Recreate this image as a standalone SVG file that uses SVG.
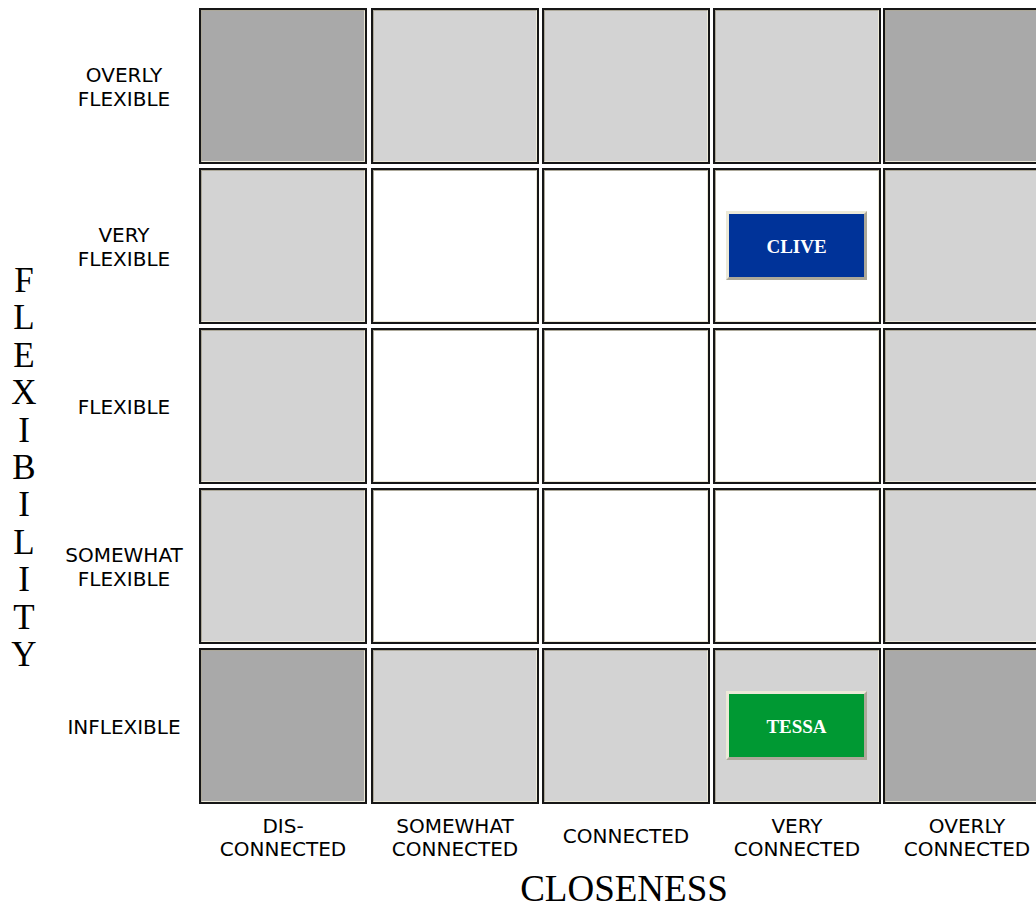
<svg xmlns="http://www.w3.org/2000/svg" width="1036" height="907" viewBox="0 0 1036 907">
<style>
.bg{fill:#ffffff}
.outer{fill:#161616}
.hi{fill:#ece9d8}
.lo{fill:#aca899}
.dk{fill:#a9a9a9}
.lt{fill:#d3d3d3}
.wh{fill:#ffffff}
.lbl{font-family:"DejaVu Sans",Verdana,sans-serif;font-size:20px;fill:#000;text-anchor:middle}
.axis{font-family:"Liberation Serif","Times New Roman",serif;font-size:37px;fill:#000;text-anchor:middle}
.vax{font-family:"Liberation Serif","Times New Roman",serif;font-size:35px;fill:#000;text-anchor:middle}
.name{font-family:"Liberation Serif","Times New Roman",serif;font-size:19px;font-weight:bold;fill:#fff;text-anchor:middle}
</style>
<defs>
<g id="frame">
<rect class="outer" x="0" y="0" width="168" height="156"/>
<rect class="hi" x="2" y="2" width="164" height="152"/>
<path class="lo" d="M2 2H166L165 3H3V153L2 154Z"/>
</g>
<g id="nb">
<rect class="hi" x="0" y="0" width="141" height="69"/>
<path class="lo" d="M141 0V69H0L3 66H138V3Z"/>
</g>
</defs>
<rect class="bg" x="0" y="0" width="1036" height="907"/>
<g id="grid">
<g id="c11" transform="translate(199,8)"><use href="#frame"/><rect class="dk" x="3" y="3" width="162" height="150"/></g>
<g id="c12" transform="translate(371,8)"><use href="#frame"/><rect class="lt" x="3" y="3" width="162" height="150"/></g>
<g id="c13" transform="translate(542,8)"><use href="#frame"/><rect class="lt" x="3" y="3" width="162" height="150"/></g>
<g id="c14" transform="translate(713,8)"><use href="#frame"/><rect class="lt" x="3" y="3" width="162" height="150"/></g>
<g id="c15" transform="translate(883,8)"><use href="#frame"/><rect class="dk" x="3" y="3" width="162" height="150"/></g>

<g id="c21" transform="translate(199,168)"><use href="#frame"/><rect class="lt" x="3" y="3" width="162" height="150"/></g>
<g id="c22" transform="translate(371,168)"><use href="#frame"/><rect class="wh" x="3" y="3" width="162" height="150"/></g>
<g id="c23" transform="translate(542,168)"><use href="#frame"/><rect class="wh" x="3" y="3" width="162" height="150"/></g>
<g id="c24" transform="translate(713,168)"><use href="#frame"/><rect class="wh" x="3" y="3" width="162" height="150"/></g>
<g id="c25" transform="translate(883,168)"><use href="#frame"/><rect class="lt" x="3" y="3" width="162" height="150"/></g>

<g id="c31" transform="translate(199,328)"><use href="#frame"/><rect class="lt" x="3" y="3" width="162" height="150"/></g>
<g id="c32" transform="translate(371,328)"><use href="#frame"/><rect class="wh" x="3" y="3" width="162" height="150"/></g>
<g id="c33" transform="translate(542,328)"><use href="#frame"/><rect class="wh" x="3" y="3" width="162" height="150"/></g>
<g id="c34" transform="translate(713,328)"><use href="#frame"/><rect class="wh" x="3" y="3" width="162" height="150"/></g>
<g id="c35" transform="translate(883,328)"><use href="#frame"/><rect class="lt" x="3" y="3" width="162" height="150"/></g>

<g id="c41" transform="translate(199,488)"><use href="#frame"/><rect class="lt" x="3" y="3" width="162" height="150"/></g>
<g id="c42" transform="translate(371,488)"><use href="#frame"/><rect class="wh" x="3" y="3" width="162" height="150"/></g>
<g id="c43" transform="translate(542,488)"><use href="#frame"/><rect class="wh" x="3" y="3" width="162" height="150"/></g>
<g id="c44" transform="translate(713,488)"><use href="#frame"/><rect class="wh" x="3" y="3" width="162" height="150"/></g>
<g id="c45" transform="translate(883,488)"><use href="#frame"/><rect class="lt" x="3" y="3" width="162" height="150"/></g>

<g id="c51" transform="translate(199,648)"><use href="#frame"/><rect class="dk" x="3" y="3" width="162" height="150"/></g>
<g id="c52" transform="translate(371,648)"><use href="#frame"/><rect class="lt" x="3" y="3" width="162" height="150"/></g>
<g id="c53" transform="translate(542,648)"><use href="#frame"/><rect class="lt" x="3" y="3" width="162" height="150"/></g>
<g id="c54" transform="translate(713,648)"><use href="#frame"/><rect class="lt" x="3" y="3" width="162" height="150"/></g>
<g id="c55" transform="translate(883,648)"><use href="#frame"/><rect class="dk" x="3" y="3" width="162" height="150"/></g>
</g>

<g id="clive" transform="translate(726,211)"><use href="#nb"/><rect x="3" y="3" width="135" height="63" fill="#003399"/><text class="name" x="70.5" y="42">CLIVE</text></g>
<g id="tessa" transform="translate(726,691)"><use href="#nb"/><rect x="3" y="3" width="135" height="63" fill="#009933"/><text class="name" x="70.5" y="42">TESSA</text></g>

<g id="row-labels">
<text class="lbl" x="124" y="82">OVERLY</text><text class="lbl" x="124" y="106">FLEXIBLE</text>
<text class="lbl" x="124" y="242">VERY</text><text class="lbl" x="124" y="266">FLEXIBLE</text>
<text class="lbl" x="124" y="414">FLEXIBLE</text>
<text class="lbl" x="124" y="562">SOMEWHAT</text><text class="lbl" x="124" y="586">FLEXIBLE</text>
<text class="lbl" x="124" y="734">INFLEXIBLE</text>
</g>
<g id="col-labels">
<text class="lbl" x="283" y="833">DIS-</text><text class="lbl" x="283" y="856">CONNECTED</text>
<text class="lbl" x="455" y="833">SOMEWHAT</text><text class="lbl" x="455" y="856">CONNECTED</text>
<text class="lbl" x="626" y="843">CONNECTED</text>
<text class="lbl" x="797" y="833">VERY</text><text class="lbl" x="797" y="856">CONNECTED</text>
<text class="lbl" x="967" y="833">OVERLY</text><text class="lbl" x="967" y="856">CONNECTED</text>
</g>
<g id="axis-y">
<text class="vax" x="24" y="292">F</text>
<text class="vax" x="24" y="329.4">L</text>
<text class="vax" x="24" y="366.8">E</text>
<text class="vax" x="24" y="404.2">X</text>
<text class="vax" x="24" y="441.6">I</text>
<text class="vax" x="24" y="479">B</text>
<text class="vax" x="24" y="516.4">I</text>
<text class="vax" x="24" y="553.8">L</text>
<text class="vax" x="24" y="591.2">I</text>
<text class="vax" x="24" y="628.6">T</text>
<text class="vax" x="24" y="666">Y</text>
</g>
<g id="axis-x"><text class="axis" x="624" y="901">CLOSENESS</text></g>
</svg>
